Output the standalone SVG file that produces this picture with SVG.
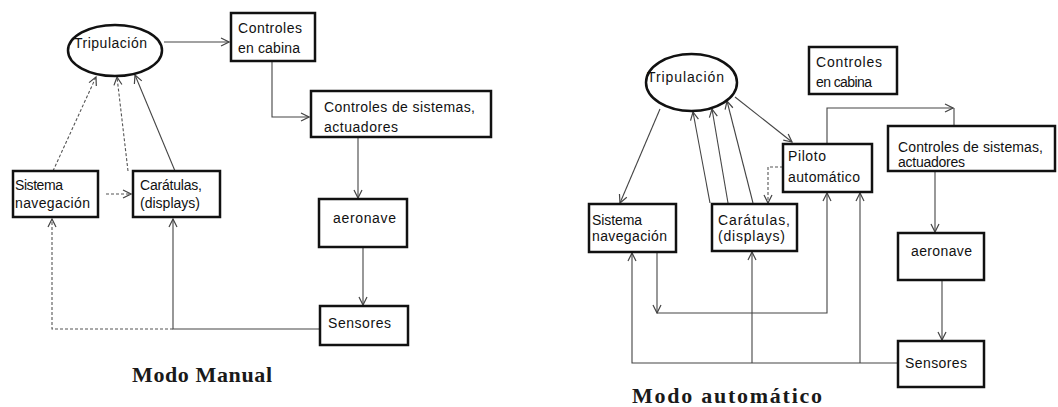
<svg xmlns="http://www.w3.org/2000/svg" width="1058" height="407" viewBox="0 0 1058 407">
<style>
.box{fill:#fff;stroke:#111;stroke-width:2.5}
.ell{fill:#fff;stroke:#111;stroke-width:2.5}
.t{font-family:"Liberation Sans",Arial,sans-serif;font-size:14px;fill:#111}
.title{font-family:"Liberation Serif","Times New Roman",serif;font-size:22px;font-weight:bold;fill:#1a1a1a}
.c{fill:none;stroke:#444;stroke-width:1.1}
.d{fill:none;stroke:#555;stroke-width:1.1;stroke-dasharray:3 2}
</style>
<defs>
<marker id="arr" viewBox="0 0 10 10" refX="9" refY="5" markerWidth="10" markerHeight="10" markerUnits="userSpaceOnUse" orient="auto">
<path d="M1,1 L9,5 L1,9" fill="none" stroke="#444" stroke-width="1.2"/>
</marker>
</defs>

<g id="connectors">
<!-- left -->
<path class="c" d="M164,42 H229" marker-end="url(#arr)"/>
<path class="c" d="M272,61 V117 H309" marker-end="url(#arr)"/>
<path class="c" d="M358,137 V198" marker-end="url(#arr)"/>
<path class="c" d="M363,247 V305" marker-end="url(#arr)"/>
<path class="d" d="M106,194 H131" marker-end="url(#arr)"/>
<path class="d" d="M53,171 L96,77" marker-end="url(#arr)"/>
<path class="d" d="M128,171 L117,77" marker-end="url(#arr)"/>
<path class="c" d="M175,171 L135,75" marker-end="url(#arr)"/>
<path class="c" d="M320,329 H173 V219" marker-end="url(#arr)"/>
<path class="d" d="M173,329 H52 V219" marker-end="url(#arr)"/>
<!-- right -->
<path class="c" d="M660,109 L620,203" marker-end="url(#arr)"/>
<path class="c" d="M710,203 L693,112" marker-end="url(#arr)"/>
<path class="c" d="M728,203 L712,109" marker-end="url(#arr)"/>
<path class="c" d="M753,203 L727,101" marker-end="url(#arr)"/>
<path class="c" d="M735,97 L792,142" marker-end="url(#arr)"/>
<path class="d" d="M783,167 H768 V203" marker-end="url(#arr)"/>
<path class="c" d="M827,144 V108 H953" marker-end="url(#arr)"/>
<path class="c" d="M954,108 V126"/>
<path class="c" d="M935,171 V232" marker-end="url(#arr)"/>
<path class="c" d="M942,280 V340" marker-end="url(#arr)"/>
<path class="c" d="M898,363 H632 V253" marker-end="url(#arr)"/>
<path class="c" d="M752,363 V252" marker-end="url(#arr)"/>
<path class="c" d="M860,363 V193" marker-end="url(#arr)"/>
<path class="c" d="M657,253 V313" marker-end="url(#arr)"/>
<path class="c" d="M657,313 H827 V193" marker-end="url(#arr)"/>
</g>

<!-- Left: Modo Manual -->
<g id="tripulacion-l">
<ellipse class="ell" cx="115" cy="50.5" rx="47" ry="25.5"/>
<text class="t" x="74" y="48" textLength="73">Tripulación</text>
</g>
<g id="controles-cabina-l">
<rect class="box" x="231" y="13" width="84" height="48"/>
<text class="t" x="238" y="33" textLength="64">Controles</text>
<text class="t" x="238" y="53" textLength="62">en cabina</text>
</g>
<g id="controles-sistemas-l">
<rect class="box" x="311" y="91" width="180" height="46"/>
<text class="t" x="324" y="112" textLength="151">Controles de sistemas,</text>
<text class="t" x="324" y="132" textLength="74">actuadores</text>
</g>
<g id="aeronave-l">
<rect class="box" x="319" y="199" width="88" height="48"/>
<text class="t" x="333" y="223" textLength="63">aeronave</text>
</g>
<g id="sensores-l">
<rect class="box" x="320" y="306" width="88" height="39"/>
<text class="t" x="328" y="328" textLength="63">Sensores</text>
</g>
<g id="sistema-l">
<rect class="box" x="13" y="171" width="85" height="46"/>
<text class="t" x="15" y="190" textLength="48">Sistema</text>
<text class="t" x="15" y="208" textLength="75">navegación</text>
</g>
<g id="caratulas-l">
<rect class="box" x="133" y="171" width="87" height="46"/>
<text class="t" x="140" y="190" textLength="62">Carátulas,</text>
<text class="t" x="140" y="208" textLength="60">(displays)</text>
</g>
<text id="title-manual" class="title" x="132" y="382" textLength="140">Modo Manual</text>

<!-- Right: Modo automatico -->
<g id="tripulacion-r">
<ellipse class="ell" cx="691.5" cy="82.5" rx="45.5" ry="28.5"/>
<text class="t" x="647" y="82" textLength="77">Tripulación</text>
</g>
<g id="controles-cabina-r">
<rect class="box" x="809" y="47" width="88" height="47"/>
<text class="t" x="816" y="67" textLength="66">Controles</text>
<text class="t" x="816" y="87" textLength="56">en cabina</text>
</g>
<g id="piloto-r">
<rect class="box" x="783" y="144" width="89" height="48"/>
<text class="t" x="788" y="161" textLength="38">Piloto</text>
<text class="t" x="788" y="182" textLength="72">automático</text>
</g>
<g id="controles-sistemas-r">
<rect class="box" x="888" y="126" width="167" height="45"/>
<text class="t" x="898" y="152" textLength="145">Controles de sistemas,</text>
<text class="t" x="898" y="167" textLength="67">actuadores</text>
</g>
<g id="aeronave-r">
<rect class="box" x="898" y="233" width="86" height="47"/>
<text class="t" x="911" y="256" textLength="61">aeronave</text>
</g>
<g id="sensores-r">
<rect class="box" x="898" y="341" width="86" height="46"/>
<text class="t" x="905" y="368" textLength="62">Sensores</text>
</g>
<g id="sistema-r">
<rect class="box" x="589" y="204" width="87" height="48"/>
<text class="t" x="592" y="225" textLength="50">Sistema</text>
<text class="t" x="592" y="241" textLength="75">navegación</text>
</g>
<g id="caratulas-r">
<rect class="box" x="712" y="204" width="85" height="47"/>
<text class="t" x="718" y="225" textLength="72">Carátulas,</text>
<text class="t" x="718" y="241" textLength="67">(displays)</text>
</g>
<text id="title-auto" class="title" x="632" y="403" textLength="190">Modo automático</text>
</svg>
